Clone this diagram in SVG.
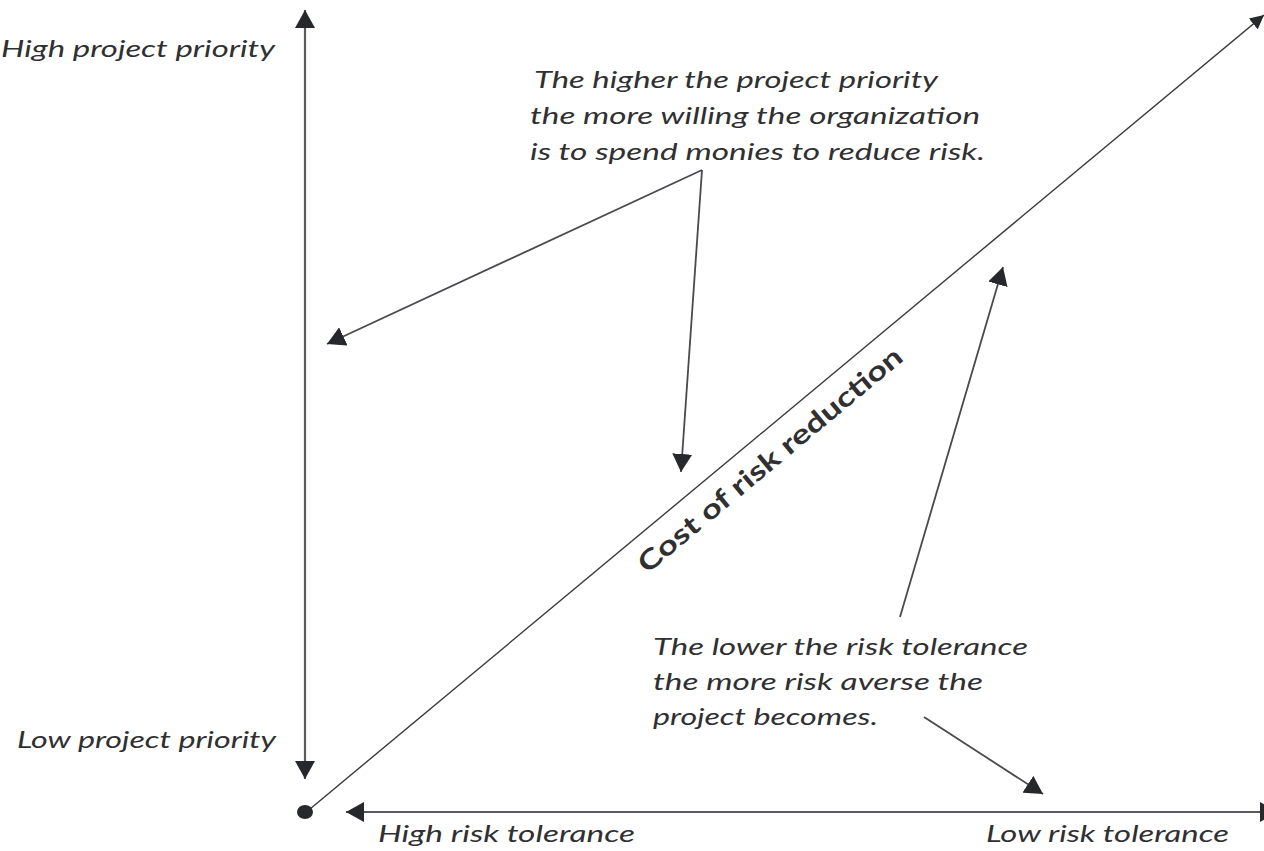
<svg xmlns="http://www.w3.org/2000/svg" width="1264" height="851" viewBox="0 0 1264 851">
  <defs>
    <marker id="head" viewBox="0 0 18 20" refX="18" refY="10" markerWidth="18" markerHeight="20" markerUnits="userSpaceOnUse" orient="auto">
      <path d="M0,0 L18,10 L0,20 Z" fill="#26282c"/>
    </marker>
    <marker id="headSmall" viewBox="0 0 14 14" refX="14" refY="7" markerWidth="14" markerHeight="14" markerUnits="userSpaceOnUse" orient="auto">
      <path d="M0,0 L14,7 L0,14 Z" fill="#26282c"/>
    </marker>
  </defs>
  <style>
    .note { font-family: Lato, "Open Sans", "Liberation Sans", sans-serif; font-style: italic; font-size: 24px; fill: #303033; }
    .title { font-family: Lato, "Open Sans", "Liberation Sans", sans-serif; font-weight: bold; font-size: 27px; fill: #303033; }
    .axis { stroke: #5a5a5e; stroke-width: 2.2; fill: none; }
    .link { stroke: #4a4a4e; stroke-width: 1.8; fill: none; }
    .diag { stroke: #3a3a3e; stroke-width: 1.4; fill: none; }
  </style>
  <rect width="1264" height="851" fill="#fff"/>

  <g id="connectors">
    <!-- vertical priority axis -->
    <line class="axis" x1="305" y1="394" x2="305" y2="10" marker-end="url(#head)"/>
    <line class="axis" x1="305" y1="394" x2="305" y2="779" marker-end="url(#head)"/>
    <!-- horizontal risk tolerance axis -->
    <line class="axis" x1="800" y1="812" x2="346" y2="812" marker-end="url(#head)"/>
    <line class="axis" x1="800" y1="812" x2="1278" y2="812" marker-end="url(#head)"/>
    <!-- cost of risk reduction diagonal -->
    <line class="diag" x1="310" y1="809" x2="1264" y2="15" marker-end="url(#headSmall)"/>
    <!-- callout arrows, upper note -->
    <line class="link" x1="702" y1="170" x2="327" y2="344" marker-end="url(#head)"/>
    <line class="link" x1="702" y1="170" x2="681" y2="472" marker-end="url(#head)"/>
    <!-- callout arrows, lower note -->
    <line class="link" x1="900" y1="617" x2="1003" y2="267" marker-end="url(#head)"/>
    <line class="link" x1="924" y1="717" x2="1043" y2="794" marker-end="url(#head)"/>
  </g>

  <g id="origin">
    <ellipse cx="305" cy="812" rx="8" ry="7" fill="#26282c"/>
  </g>

  <g id="high-priority">
    <text class="note" x="1" y="57" textLength="274" lengthAdjust="spacingAndGlyphs">High project priority</text>
  </g>
  <g id="low-priority">
    <text class="note" x="17" y="748" textLength="259" lengthAdjust="spacingAndGlyphs">Low project priority</text>
  </g>
  <g id="high-tolerance">
    <text class="note" x="378" y="842" textLength="257" lengthAdjust="spacingAndGlyphs">High risk tolerance</text>
  </g>
  <g id="low-tolerance">
    <text class="note" x="986" y="842" textLength="243" lengthAdjust="spacingAndGlyphs">Low risk tolerance</text>
  </g>

  <g id="priority-note">
    <text class="note" x="534" y="88" textLength="404" lengthAdjust="spacingAndGlyphs">The higher the project priority</text>
    <text class="note" x="530" y="124" textLength="450" lengthAdjust="spacingAndGlyphs">the more willing the organization</text>
    <text class="note" x="530" y="160" textLength="455" lengthAdjust="spacingAndGlyphs">is to spend monies to reduce risk.</text>
  </g>

  <g id="tolerance-note">
    <text class="note" x="653" y="655" textLength="375" lengthAdjust="spacingAndGlyphs">The lower the risk tolerance</text>
    <text class="note" x="653" y="690" textLength="330" lengthAdjust="spacingAndGlyphs">the more risk averse the</text>
    <text class="note" x="653" y="725" textLength="225" lengthAdjust="spacingAndGlyphs">project becomes.</text>
  </g>

  <g id="cost-label">
    <text class="title" text-anchor="middle" transform="translate(776,467) rotate(-39.8)" textLength="335" lengthAdjust="spacingAndGlyphs">Cost of risk reduction</text>
  </g>
</svg>
